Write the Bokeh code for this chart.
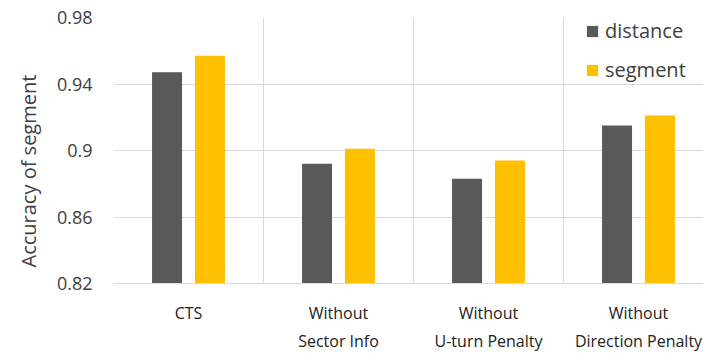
from bokeh.embed import file_html
from bokeh.models import FixedTicker, Range1d, Title
from bokeh.plotting import figure
from bokeh.resources import INLINE

# Ablation results: accuracy of segment per model variant
categories = ["CTS", "Without\nSector Info", "Without\nU-turn Penalty", "Without\nDirection Penalty"]
distance = [0.947, 0.892, 0.883, 0.915]
segment = [0.957, 0.901, 0.894, 0.921]
y_ticks = [0.82, 0.86, 0.9, 0.94, 0.98]
y_tick_labels = ["0.82", "0.86", "0.9", "0.94", "0.98"]

DARK = "#595959"
GOLD = "#FFC000"
GRID = "#D9D9D9"
TEXT = "#404040"

centers = [i + 0.5 for i in range(len(categories))]
offset = 0.143
bar_w = 0.2

p = figure(
    width=703, height=354,
    x_range=Range1d(0, 590 / 150), y_range=Range1d(0.82, 0.98),
    output_backend="svg", toolbar_location=None,
    min_border_left=113, min_border_right=0,
    min_border_top=17, min_border_bottom=69,
)
p.outline_line_color = None
p.background_fill_color = "white"
p.border_fill_color = "white"

p.vbar(x=[c - offset for c in centers], top=distance, bottom=0.82, width=bar_w,
       fill_color=DARK, line_color=None, legend_label="distance")
p.vbar(x=[c + offset for c in centers], top=segment, bottom=0.82, width=bar_w,
       fill_color=GOLD, line_color=None, legend_label="segment")

# grid: horizontal at the ticks, vertical between the groups
p.ygrid.ticker = FixedTicker(ticks=y_ticks)
p.ygrid.grid_line_color = GRID
p.ygrid.grid_line_width = 1
p.xgrid.ticker = FixedTicker(ticks=list(range(len(categories) + 1)))
p.xgrid.grid_line_color = GRID
p.xgrid.grid_line_width = 1

# y axis
p.yaxis.ticker = FixedTicker(ticks=y_ticks)
p.yaxis.major_label_overrides = dict(zip(y_ticks, y_tick_labels))
p.yaxis.axis_line_color = None
p.yaxis.major_tick_line_color = None
p.yaxis.minor_tick_line_color = None
p.yaxis.major_tick_out = 0
p.yaxis.major_label_standoff = 21
p.yaxis.major_label_text_font = "Open Sans"
p.yaxis.major_label_text_font_size = "18px"
p.yaxis.major_label_text_color = TEXT

# x axis with the group names
p.xaxis.ticker = FixedTicker(ticks=centers)
p.xaxis.major_label_overrides = dict(zip(centers, categories))
p.xaxis.axis_line_color = GRID
p.xaxis.major_tick_line_color = None
p.xaxis.minor_tick_line_color = None
p.xaxis.major_tick_out = 0
p.xaxis.major_label_standoff = 18
p.xaxis.major_label_text_font = "Open Sans"
p.xaxis.major_label_text_font_size = "16px"
p.xaxis.major_label_text_line_height = 1.28
p.xaxis.major_label_text_color = "#222222"

# y axis title, starting a little above the bottom of the frame
p.add_layout(Title(
    text="Accuracy of segment", align="left", offset=16, standoff=24,
    text_font="Open Sans", text_font_size="20px", text_font_style="normal",
    text_color=TEXT,
), "left")

leg = p.legend[0]
leg.location = (472, 200)
leg.border_line_color = None
leg.background_fill_alpha = 0
leg.padding = 0
leg.margin = 0
leg.spacing = 12
leg.glyph_width = 14
leg.glyph_height = 14
leg.label_height = 22
leg.label_standoff = 6
leg.label_text_font = "Open Sans"
leg.label_text_font_size = "20px"
leg.label_text_color = TEXT

open("out.html", "w").write(file_html(p, INLINE))
